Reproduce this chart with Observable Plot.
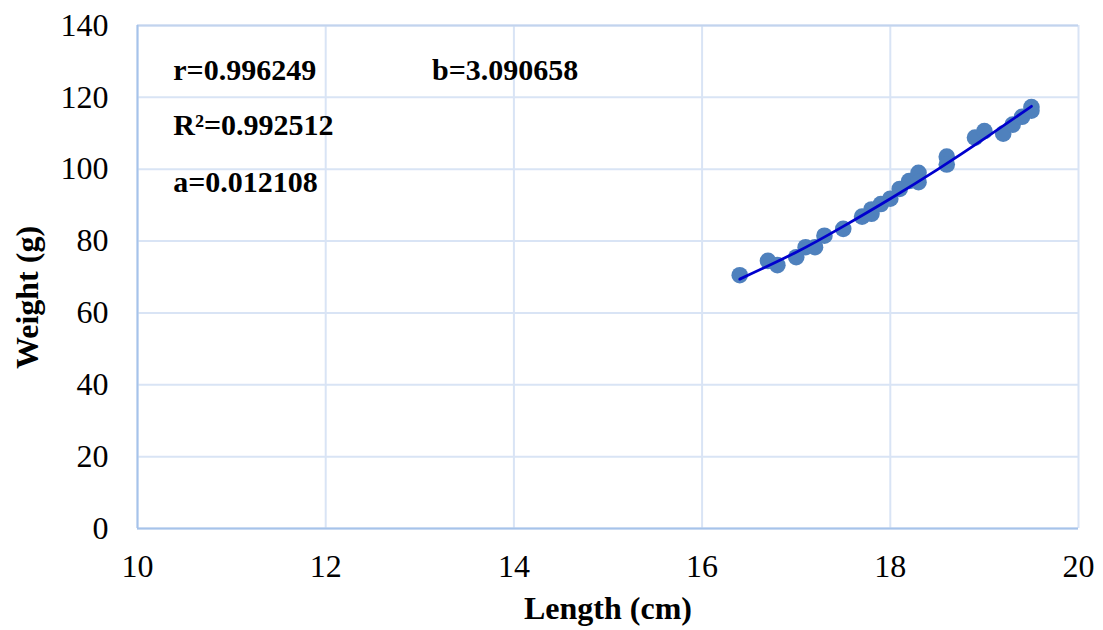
<!DOCTYPE html>
<html>
<head>
<meta charset="utf-8">
<script src="https://cdn.jsdelivr.net/npm/d3@7"></script>
<script src="https://cdn.jsdelivr.net/npm/@observablehq/plot@0.6"></script>
<style>
  html, body { margin: 0; padding: 0; background: #fff; }
  svg text { font-family: "Liberation Serif", "Times New Roman", serif !important; }
</style>
</head>
<body>
<div id="chart"></div>
<script>
const lengthCm = [16.4, 16.7, 16.8, 17.0, 17.1, 17.2, 17.3, 17.5, 17.7, 17.8, 17.8, 17.9, 18.0, 18.1, 18.2, 18.3, 18.3, 18.6, 18.6, 18.9, 19.0, 19.2, 19.3, 19.4, 19.5, 19.5];
const weightG  = [70.5, 74.5, 73.3, 75.5, 78.3, 78.3, 81.5, 83.4, 86.8, 88.8, 87.6, 90.3, 91.8, 94.5, 96.7, 99.0, 96.4, 103.5, 101.3, 108.8, 110.6, 109.9, 112.4, 114.6, 117.3, 116.3];

// Fitted power curve as drawn (W = aL^b)
const fitLength = [16.4, 17.0, 17.5, 18.0, 18.5, 19.0, 19.5];
const fitWeight = [69.4, 76.9, 84.1, 91.8, 99.9, 108.5, 117.5];

// Annotations
const statLabels = ["r=0.996249", "b=3.090658", "R\u00B2=0.992512", "a=0.012108"];
const statX = [10.38, 13.13, 10.38, 10.38];
const statY = [127.5, 127.5, 112.2, 96.3];

// Axes
const xTicks = [10, 12, 14, 16, 18, 20];
const yTicks = [0, 20, 40, 60, 80, 100, 120, 140];
const xTitle = "Length (cm)";
const yTitle = "Weight (g)";

const points = lengthCm.map((L, i) => ({L, W: weightG[i]}));
const fit = fitLength.map((L, i) => ({L, W: fitWeight[i]}));
const stats = statLabels.map((t, i) => ({t, x: statX[i], y: statY[i]}));

const font = "Liberation Serif, Times New Roman, serif";

const chart = Plot.plot({
  width: 1103,
  height: 630,
  marginLeft: 137,
  marginRight: 25,
  marginTop: 25,
  marginBottom: 102,
  style: {fontFamily: font, fontSize: "32px", color: "#000", background: "#fff"},
  x: {domain: [10, 20], ticks: xTicks},
  y: {domain: [0, 140], ticks: yTicks},
  marks: [
    Plot.gridX(xTicks, {stroke: "#D9E4F5", strokeOpacity: 1, strokeWidth: 2}),
    Plot.gridY(yTicks, {stroke: "#D9E4F5", strokeOpacity: 1, strokeWidth: 2}),
    Plot.ruleY([140], {stroke: "#C2D4EE", strokeWidth: 2}),
    Plot.ruleY([0], {stroke: "#A6C3EA", strokeWidth: 2}),
    Plot.ruleX([10], {stroke: "#A6C3EA", strokeWidth: 2}),
    Plot.axisX(xTicks, {tickSize: 0, tickPadding: 38, lineAnchor: "middle", fontSize: 32, fontFamily: font, label: null, fill: "#000"}),
    Plot.axisY(yTicks, {tickSize: 0, tickPadding: 29, textAnchor: "end", fontSize: 32, fontFamily: font, label: null, fill: "#000"}),
    Plot.dot(points, {x: "L", y: "W", r: 8.3, fill: "#4F81BD", stroke: "none"}),
    Plot.line(fit, {x: "L", y: "W", curve: "natural", stroke: "#0000CD", strokeWidth: 2.8}),
    Plot.text(stats, {x: "x", y: "y", text: "t", textAnchor: "start", lineAnchor: "middle", fontSize: 30, fontFamily: font, fontWeight: "bold", fill: "#000"}),
    Plot.text([xTitle], {frameAnchor: "bottom", dy: 80, lineAnchor: "middle", fontSize: 32, fontFamily: font, fontWeight: "bold", fill: "#000"}),
    Plot.text([yTitle], {x: () => 8.83, y: () => 64.3, rotate: -90, textAnchor: "middle", lineAnchor: "middle", fontSize: 32, fontFamily: font, fontWeight: "bold", fill: "#000"})
  ]
});

document.getElementById("chart").appendChild(chart);
</script>
</body>
</html>
